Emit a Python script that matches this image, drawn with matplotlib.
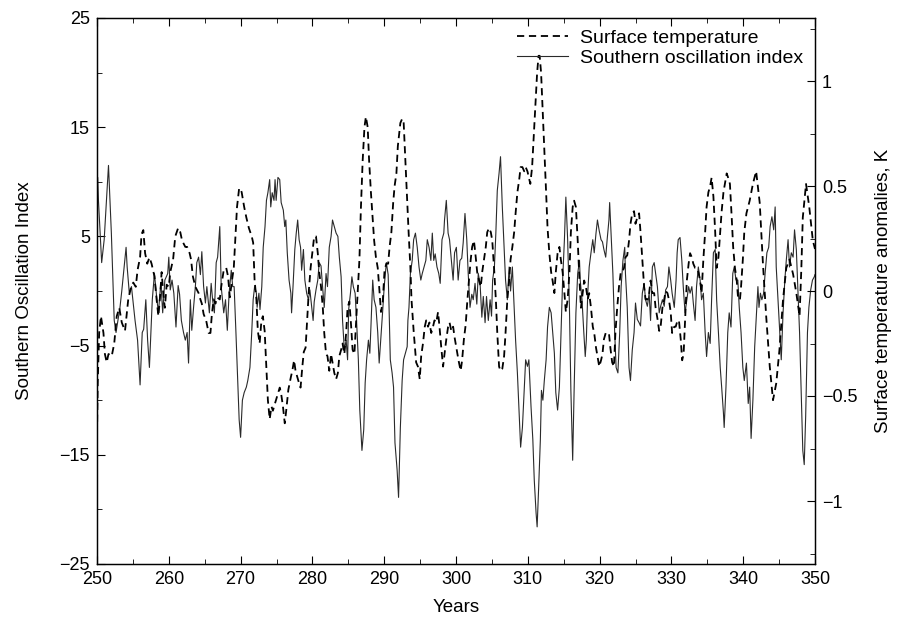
import matplotlib
matplotlib.use("Agg")
import matplotlib.pyplot as plt
from matplotlib.ticker import MultipleLocator, FixedLocator, FuncFormatter

plt.rcParams['font.family'] = ['Liberation Sans', 'DejaVu Sans']

# ---- Southern Oscillation Index (left axis) ----
soi_years = [250.0, 250.1, 250.2, 250.65, 251.0, 251.6, 252.0, 252.4, 252.65, 253.2, 253.45, 254.05, 254.2, 254.5, 254.8,
             255.3, 255.65, 256.0, 256.3, 256.5, 256.8, 257.05, 257.3, 257.7, 258.0, 258.3, 258.55, 258.9, 259.15, 259.45,
             259.85, 260.0, 260.2, 260.45, 260.7, 261.0, 261.3, 261.5, 261.75, 262.05, 262.3, 262.55, 262.75, 263.0, 263.2,
             263.45, 263.7, 263.9, 264.15, 264.4, 264.6, 264.85, 265.1, 265.3, 265.65, 265.9, 266.1, 266.35, 266.6, 266.8,
             267.1, 267.3, 267.65, 267.9, 268.15, 268.4, 268.7, 268.9, 269.1, 269.35, 269.6, 269.8, 270.0, 270.25, 270.5,
             270.8, 271.0, 271.3, 271.55, 271.75, 271.95, 272.2, 272.3, 272.55, 272.7, 272.95, 273.15, 273.4, 273.6, 273.8,
             274.05, 274.2, 274.4, 274.65, 274.8, 274.95, 275.2, 275.45, 275.65, 275.95, 276.15, 276.3, 276.5, 276.75, 277.0,
             277.1, 277.3, 277.55, 277.75, 277.95, 278.15, 278.35, 278.5, 278.75, 278.95, 279.2, 279.45, 279.65, 279.9, 280.1,
             280.25, 280.5, 280.75, 280.95, 281.2, 281.45, 281.65, 281.9, 282.1, 282.35, 282.6, 282.8, 283.05, 283.3, 283.55,
             283.75, 284.0, 284.2, 284.45, 284.7, 284.9, 285.05, 285.3, 285.5, 285.7, 285.95, 286.15, 286.4, 286.6, 286.9,
             287.15, 287.35, 287.55, 287.8, 288.0, 288.15, 288.4, 288.6, 288.85, 289.1, 289.3, 289.55, 289.8, 290.0, 290.3,
             290.55, 290.65, 290.85, 291.1, 291.3, 291.5, 291.8, 292.0, 292.25, 292.5, 292.7, 292.95, 293.2, 293.3, 293.45,
             293.65, 293.9, 294.1, 294.35, 294.6, 294.85, 295.1, 295.3, 295.55, 295.8, 296.0, 296.25, 296.5, 296.7, 296.9,
             297.1, 297.35, 297.6, 297.8, 298.05, 298.3, 298.4, 298.65, 298.9, 299.1, 299.35, 299.6, 299.8, 300.05, 300.3,
             300.55, 300.8, 301.0, 301.25, 301.5, 301.7, 301.95, 302.2, 302.4, 302.65, 302.9, 303.1, 303.35, 303.6, 303.8,
             304.05, 304.25, 304.5, 304.75, 304.95, 305.1, 305.35, 305.55, 305.75, 306.0, 306.2, 306.45, 306.7, 306.9, 307.15,
             307.4, 307.6, 307.85, 308.1, 308.3, 308.55, 308.8, 309.0, 309.25, 309.5, 309.7, 309.95, 310.15, 310.45, 310.7,
             310.9, 311.15, 311.3, 311.5, 311.75, 311.9, 312.1, 312.3, 312.55, 312.75, 313.0, 313.25, 313.45, 313.7, 313.9,
             314.15, 314.4, 314.6, 314.85, 315.1, 315.3, 315.55, 315.8, 316.0, 316.25, 316.45, 316.7, 316.95, 317.2, 317.3,
             317.55, 317.8, 318.0, 318.15, 318.35, 318.55, 318.8, 319.05, 319.25, 319.5, 319.7, 319.95, 320.2, 320.4, 320.6,
             320.85, 321.05, 321.3, 321.4, 321.6, 321.85, 322.1, 322.3, 322.55, 322.8, 323.0, 323.25, 323.5, 323.6, 323.85,
             324.1, 324.3, 324.55, 324.8, 325.0, 325.25, 325.5, 325.7, 325.95, 326.2, 326.4, 326.65, 326.9, 327.1, 327.35,
             327.6, 327.8, 328.05, 328.3, 328.5, 328.75, 329.0, 329.2, 329.45, 329.65, 329.9, 330.1, 330.4, 330.65, 330.8,
             330.95, 331.2, 331.45, 331.65, 331.9, 332.15, 332.4, 332.6, 332.85, 333.05, 333.3, 333.5, 333.75, 334.0, 334.2,
             334.45, 334.7, 334.9, 335.15, 335.4, 335.6, 335.85, 336.1, 336.3, 336.55, 336.8, 337.0, 337.25, 337.35, 337.6,
             337.85, 338.05, 338.3, 338.55, 338.75, 339.0, 339.25, 339.45, 339.7, 339.95, 340.15, 340.45, 340.7, 340.9, 341.1,
             341.35, 341.6, 341.8, 342.05, 342.2, 342.4, 342.6, 342.85, 343.05, 343.3, 343.55, 343.75, 344.0, 344.25, 344.45,
             344.6, 344.85, 345.1, 345.3, 345.55, 345.8, 346.0, 346.25, 346.45, 346.7, 346.95, 347.15, 347.4, 347.6, 347.85,
             348.1, 348.3, 348.5, 348.7, 348.95, 349.15, 349.4, 349.65, 349.9, 350.0]
soi_values = [9.0, 10.4, 8.3, 2.6, 4.7, 11.5, 5.3, -2.7, -3.8, -1.5, 0.0, 4.0, 2.2, -0.2, 0.4,
              -2.7, -4.5, -8.6, -3.8, -3.5, -0.8, -4.5, -7.0, -0.8, 1.6, -0.5, -2.0, 0.8, -2.0, 1.0,
              1.6, 3.1, 0.1, 1.0, -0.2, -3.3, 0.5, -0.3, -2.7, -3.8, -4.5, -3.8, -6.6, -0.8, -3.6,
              -1.5, 0.4, 2.6, 3.1, 1.5, 3.6, 0.4, -1.1, 0.4, -2.0, 0.7, -0.8, -2.0, 2.6, 3.1,
              5.9, 0.4, -2.0, -0.8, -3.6, -0.2, 1.9, 0.4, 0.4, -3.8, -8.4, -11.8, -13.4, -10.0, -9.3,
              -8.8, -8.2, -7.0, -3.8, -0.8, 0.4, -0.2, -1.5, -0.2, -1.7, 0.4, 4.0, 5.9, 8.3, 9.0,
              10.2, 7.7, 9.0, 8.3, 10.2, 8.3, 10.4, 10.2, 8.1, 7.4, 5.9, 6.5, 3.5, 1.0, -0.2,
              -2.0, 0.4, 3.8, 5.3, 6.5, 4.7, 4.0, 1.9, 3.8, 1.0, -0.2, -0.8, 0.1, -1.5, -2.7,
              -1.0, 0.1, 1.0, 2.6, 2.3, 0.1, -1.5, 1.6, 0.4, 4.0, 5.0, 6.5, 5.9, 5.3, 5.0,
              3.1, 1.3, -2.7, -5.4, -4.5, -6.3, -1.7, -0.2, 1.3, 0.4, -0.2, -2.7, -6.3, -10.9, -14.6,
              -12.7, -8.4, -6.3, -4.5, -5.7, -3.3, 1.0, -0.8, -1.5, -3.8, -6.6, -4.2, -1.7, 0.4, 2.6,
              1.5, -0.8, -6.3, -7.5, -8.8, -13.9, -16.4, -18.9, -12.5, -8.2, -6.3, -5.7, -5.1, -2.7, -1.5,
              1.6, 2.8, 4.7, 5.3, 4.0, 2.2, 1.0, 1.6, 2.2, 2.8, 4.7, 4.0, 2.8, 5.3, 2.8,
              3.4, 2.2, 1.6, 0.7, 4.7, 5.3, 6.5, 8.3, 5.3, 4.7, 2.8, 1.0, 3.5, 4.0, 1.0,
              2.8, 3.0, 4.4, 7.1, 4.7, 1.6, -1.5, -0.3, -0.8, 0.7, -1.2, 1.6, 0.7, -2.4, -0.5,
              -2.9, -0.5, -2.7, -0.8, -2.3, 1.0, 2.2, 5.3, 9.2, 10.8, 12.3, 7.7, 4.0, 1.0, -0.8,
              2.2, 0.0, 2.2, -1.5, -4.5, -7.5, -11.2, -14.3, -12.5, -9.1, -6.3, -6.9, -6.3, -10.6, -13.6,
              -17.3, -20.3, -21.6, -18.2, -13.6, -9.1, -10.0, -8.2, -6.3, -3.3, -1.5, -2.0, -3.6, -5.7, -9.3,
              -10.9, -8.8, -4.5, 1.0, 4.7, 8.6, 4.7, -1.5, -9.1, -15.5, -9.1, -2.0, 1.6, 2.8, 1.0,
              -0.8, -3.8, -6.0, -4.5, -0.2, 2.2, 3.5, 4.7, 3.5, 5.3, 6.5, 5.5, 4.7, 4.5, 3.8,
              3.1, 4.7, 6.5, 8.1, 5.3, 1.6, -3.8, -7.0, -7.5, -3.8, 0.4, 2.8, 4.0, 1.6, -1.5,
              -7.0, -8.2, -5.4, -3.8, -1.1, -2.6, -2.9, -3.2, -0.2, 0.7, -0.8, -1.4, -0.2, -2.7, 2.2,
              2.6, 1.6, 0.4, -2.0, -1.4, -0.8, -1.4, 0.1, 0.4, 2.2, 1.0, -0.2, -1.5, 1.0, 3.5,
              4.7, 4.9, 2.8, 0.4, -2.0, -0.8, 0.4, -0.2, 0.4, -1.1, -2.7, 0.4, 2.2, 1.0, -0.8,
              -0.2, -3.8, -6.0, -3.8, -4.8, -0.8, 3.5, 3.8, -0.8, -3.8, -7.0, -8.8, -11.2, -12.5, -8.8,
              -3.8, -2.0, -3.3, 1.6, 2.2, 1.0, 1.0, -1.5, -3.8, -7.0, -8.2, -6.6, -10.3, -8.8, -13.5,
              -10.0, -5.1, -2.7, 0.4, -1.5, -0.2, -0.8, -0.2, 1.6, 3.5, 4.0, 5.9, 6.8, 5.6, 7.7,
              2.2, -0.8, -3.8, -6.3, -2.0, 1.0, 2.8, 4.7, 2.2, 3.5, 3.1, 5.6, 3.8, 0.4, -3.8,
              -10.0, -14.6, -15.9, -11.5, -3.8, -1.5, 0.1, 1.0, 1.3, 1.5]

# ---- Surface temperature anomalies, K (right axis) ----
temp_years = [250.0, 250.1, 250.3, 250.55, 250.9, 251.1, 251.35, 251.6, 252.05, 252.4, 252.75, 253.1, 253.45, 253.9, 254.35,
              254.75, 255.05, 255.4, 255.65, 256.0, 256.2, 256.45, 256.7, 257.0, 257.3, 257.6, 258.0, 258.3, 258.55, 258.8,
              259.0, 259.25, 259.45, 259.7, 260.0, 260.2, 260.6, 260.9, 261.3, 261.6, 261.85, 262.3, 262.55, 262.9, 263.1,
              263.35, 263.7, 264.15, 264.4, 264.6, 264.85, 265.2, 265.55, 265.8, 266.0, 266.25, 266.5, 266.7, 267.1, 267.3,
              267.65, 268.0, 268.25, 268.5, 268.8, 269.05, 269.25, 269.5, 269.8, 270.05, 270.15, 270.5, 270.8, 271.15, 271.55,
              271.75, 271.95, 272.2, 272.4, 272.65, 272.9, 273.1, 273.35, 273.5, 273.65, 273.8, 274.05, 274.3, 274.5, 274.75,
              275.1, 275.45, 275.65, 275.9, 276.15, 276.35, 276.65, 277.0, 277.2, 277.45, 277.65, 277.9, 278.15, 278.35, 278.6,
              278.8, 279.05, 279.3, 279.5, 279.75, 280.05, 280.25, 280.5, 280.75, 280.95, 281.2, 281.45, 281.65, 281.9, 282.1,
              282.35, 282.6, 282.8, 283.05, 283.3, 283.55, 283.75, 284.0, 284.2, 284.45, 284.7, 284.9, 285.15, 285.4, 285.6,
              285.85, 286.05, 286.3, 286.55, 286.75, 287.0, 287.25, 287.45, 287.7, 287.9, 288.15, 288.4, 288.6, 288.85, 289.1,
              289.3, 289.55, 289.8, 290.05, 290.3, 290.55, 290.75, 291.0, 291.25, 291.45, 291.7, 291.9, 292.25, 292.5, 292.7,
              292.95, 293.2, 293.4, 293.65, 293.8, 294.1, 294.35, 294.45, 294.7, 294.95, 295.15, 295.4, 295.65, 295.85, 296.1,
              296.3, 296.55, 296.8, 297.0, 297.25, 297.5, 297.7, 297.95, 298.2, 298.4, 298.65, 298.9, 299.1, 299.35, 299.6,
              299.8, 300.05, 300.35, 300.65, 300.85, 301.1, 301.35, 301.55, 301.8, 302.05, 302.25, 302.5, 302.75, 302.95, 303.2,
              303.45, 303.65, 303.9, 304.15, 304.35, 304.6, 304.85, 305.05, 305.3, 305.55, 305.75, 306.0, 306.2, 306.45, 306.7,
              306.9, 307.15, 307.4, 307.6, 307.85, 308.1, 308.3, 308.55, 308.8, 309.0, 309.25, 309.5, 309.7, 309.95, 310.15,
              310.35, 310.6, 310.8, 311.05, 311.3, 311.5, 311.65, 311.85, 312.05, 312.3, 312.55, 312.75, 313.0, 313.25, 313.45,
              313.7, 313.9, 314.15, 314.4, 314.6, 314.85, 315.1, 315.3, 315.55, 315.8, 316.0, 316.25, 316.45, 316.7, 316.95,
              317.2, 317.4, 317.65, 317.85, 318.1, 318.35, 318.55, 318.8, 319.05, 319.25, 319.5, 319.7, 319.95, 320.2, 320.4,
              320.6, 320.85, 321.05, 321.3, 321.5, 321.75, 322.0, 322.2, 322.45, 322.7, 322.95, 323.15, 323.4, 323.6, 323.85,
              324.1, 324.3, 324.55, 324.8, 325.0, 325.25, 325.5, 325.7, 325.95, 326.2, 326.4, 326.65, 326.9, 327.1, 327.35,
              327.6, 327.8, 328.05, 328.3, 328.5, 328.75, 329.0, 329.2, 329.45, 329.65, 329.9, 330.1, 330.4, 330.6, 330.85,
              331.05, 331.3, 331.5, 331.7, 331.95, 332.15, 332.4, 332.6, 332.85, 333.05, 333.3, 333.5, 333.75, 334.0, 334.2,
              334.45, 334.7, 334.9, 335.15, 335.4, 335.6, 335.85, 336.1, 336.3, 336.55, 336.8, 337.0, 337.25, 337.45, 337.7,
              337.9, 338.15, 338.4, 338.6, 338.85, 339.1, 339.3, 339.55, 339.7, 339.95, 340.15, 340.45, 340.9, 341.35, 341.8,
              342.3, 342.75, 343.2, 343.7, 344.15, 344.6, 345.05, 345.55, 346.0, 346.45, 346.95, 347.4, 347.85, 348.1, 348.3,
              348.75, 349.2, 349.7, 350.0]
temp_values = [-0.68, -0.44, -0.20, -0.12, -0.20, -0.30, -0.34, -0.30, -0.31, -0.25, -0.12, -0.08, -0.15, -0.19, -0.04,
               0.02, 0.04, 0.02, 0.10, 0.16, 0.27, 0.29, 0.18, 0.13, 0.16, 0.13, 0.07, -0.04, -0.12, -0.02,
               0.09, -0.02, -0.08, 0.03, 0.02, 0.09, 0.15, 0.26, 0.30, 0.28, 0.24, 0.21, 0.21, 0.18, 0.15,
               0.07, 0.02, -0.01, -0.04, -0.06, -0.11, -0.14, -0.20, -0.20, -0.11, -0.04, -0.06, -0.03, -0.04, 0.02,
               0.10, 0.11, 0.07, -0.03, 0.05, 0.11, 0.24, 0.40, 0.49, 0.48, 0.47, 0.40, 0.35, 0.30, 0.26,
               0.23, 0.05, -0.04, -0.19, -0.25, -0.14, -0.12, -0.19, -0.30, -0.41, -0.52, -0.61, -0.55, -0.57, -0.54,
               -0.50, -0.46, -0.49, -0.55, -0.63, -0.57, -0.47, -0.41, -0.38, -0.33, -0.38, -0.41, -0.44, -0.46, -0.36,
               -0.29, -0.27, -0.12, 0.00, 0.11, 0.20, 0.26, 0.26, 0.18, 0.09, 0.02, -0.08, -0.20, -0.30, -0.31,
               -0.38, -0.30, -0.34, -0.39, -0.42, -0.39, -0.31, -0.28, -0.25, -0.30, -0.20, -0.08, -0.05, -0.17, -0.28,
               -0.30, -0.17, -0.01, 0.15, 0.39, 0.62, 0.78, 0.83, 0.78, 0.62, 0.47, 0.34, 0.24, 0.16, 0.11,
               0.02, -0.10, -0.05, 0.10, 0.13, 0.13, 0.21, 0.28, 0.42, 0.50, 0.56, 0.69, 0.80, 0.82, 0.81,
               0.62, 0.43, 0.28, 0.11, -0.04, -0.19, -0.30, -0.34, -0.36, -0.42, -0.31, -0.25, -0.17, -0.14, -0.17,
               -0.15, -0.20, -0.17, -0.14, -0.15, -0.10, -0.17, -0.27, -0.36, -0.30, -0.23, -0.17, -0.15, -0.19, -0.17,
               -0.22, -0.27, -0.33, -0.38, -0.33, -0.23, -0.16, -0.06, 0.05, 0.15, 0.21, 0.24, 0.16, 0.09, 0.05,
               0.02, 0.09, 0.15, 0.21, 0.28, 0.30, 0.28, 0.24, 0.11, -0.04, -0.20, -0.36, -0.38, -0.37, -0.31,
               -0.20, -0.04, 0.05, 0.15, 0.21, 0.28, 0.37, 0.47, 0.53, 0.59, 0.59, 0.57, 0.59, 0.57, 0.54,
               0.51, 0.59, 0.72, 0.88, 1.04, 1.12, 1.12, 1.04, 0.88, 0.67, 0.47, 0.30, 0.18, 0.09, 0.05,
               -0.01, 0.09, 0.18, 0.21, 0.15, 0.09, -0.01, -0.10, -0.04, 0.09, 0.28, 0.40, 0.43, 0.40, 0.24,
               0.05, -0.08, -0.01, 0.05, 0.02, -0.04, -0.01, -0.08, -0.17, -0.20, -0.27, -0.31, -0.36, -0.33, -0.30,
               -0.23, -0.20, -0.20, -0.20, -0.27, -0.34, -0.36, -0.20, -0.08, 0.02, 0.09, 0.09, 0.11, 0.16, 0.17,
               0.24, 0.32, 0.37, 0.38, 0.32, 0.35, 0.37, 0.28, 0.15, 0.02, -0.04, -0.04, -0.01, 0.05, -0.01,
               -0.01, -0.08, -0.13, -0.19, -0.17, -0.08, -0.04, 0.00, -0.01, -0.04, -0.10, -0.20, -0.17, -0.17, -0.14,
               -0.14, -0.23, -0.33, -0.30, -0.10, 0.05, 0.13, 0.18, 0.16, 0.13, 0.11, 0.11, 0.09, 0.05, -0.01,
               0.15, 0.28, 0.40, 0.47, 0.50, 0.54, 0.45, 0.28, 0.11, 0.16, 0.28, 0.38, 0.47, 0.51, 0.56,
               0.54, 0.51, 0.35, 0.21, 0.11, 0.05, -0.04, -0.04, 0.02, 0.15, 0.28, 0.37, 0.43, 0.51, 0.57,
               0.42, 0.13, -0.12, -0.36, -0.52, -0.44, -0.28, -0.04, 0.11, 0.15, 0.08, -0.01, -0.12, 0.11, 0.35,
               0.51, 0.40, 0.24, 0.20]

x_ticks = [250, 260, 270, 280, 290, 300, 310, 320, 330, 340, 350]
left_ticks = [-25, -15, -5, 5, 15, 25]
right_ticks = [-1, -0.5, 0, 0.5, 1]

fig = plt.figure(figsize=(9.02, 6.17), dpi=100)
ax = fig.add_axes([97/902, 1 - 564/617, (815-97)/902, (564-18)/617])
ax2 = ax.twinx()

l_temp, = ax2.plot(temp_years, temp_values, color='black', lw=1.3,
                   linestyle=(0, (4, 2.6)), label='Surface temperature')
l_soi, = ax.plot(soi_years, soi_values, color='#2a2a2a', lw=0.8,
                 label='Southern oscillation index')

ax.set_xlim(250, 350)
ax.set_ylim(-25, 25)
ax2.set_ylim(-1.3, 1.3)

ax.xaxis.set_major_locator(FixedLocator(x_ticks))
ax.xaxis.set_minor_locator(MultipleLocator(5))
ax.yaxis.set_major_locator(FixedLocator(left_ticks))
ax.yaxis.set_minor_locator(MultipleLocator(5))
ax2.yaxis.set_major_locator(FixedLocator(right_ticks))
ax2.yaxis.set_minor_locator(MultipleLocator(0.25))

def fmt(v, pos):
    s = ('%g' % v)
    return s.replace('-', '\u2212')

ax2.yaxis.set_major_formatter(FuncFormatter(fmt))
ax.yaxis.set_major_formatter(FuncFormatter(fmt))

ax.tick_params(axis='x', which='both', direction='in', top=True, labelsize=13, pad=5)
ax.tick_params(axis='x', which='major', length=6)
ax.tick_params(axis='x', which='minor', length=3.5)
ax.tick_params(axis='y', which='both', direction='in', right=False, labelsize=13, pad=5)
ax.tick_params(axis='y', which='major', length=6)
ax.tick_params(axis='y', which='minor', length=3.5)
ax2.tick_params(axis='y', which='both', direction='in', labelsize=13, pad=5)
ax2.tick_params(axis='y', which='major', length=6)
ax2.tick_params(axis='y', which='minor', length=3.5)

for a in (ax, ax2):
    for s in a.spines.values():
        s.set_linewidth(0.9)

ax.set_xlabel('Years', fontsize=13.5, labelpad=8)
ax.set_ylabel('Southern Oscillation Index', fontsize=13.5, labelpad=19)
ax2.set_ylabel('Surface temperature anomalies, K', fontsize=13.5, labelpad=13)

leg = ax2.legend(handles=[l_temp, l_soi], loc='upper right', frameon=False, fontsize=14,
                 handlelength=2.6, handletextpad=0.65, labelspacing=0.1,
                 borderaxespad=0.2, bbox_to_anchor=(1.0, 1.0))

fig.savefig('out.png', dpi=100)
